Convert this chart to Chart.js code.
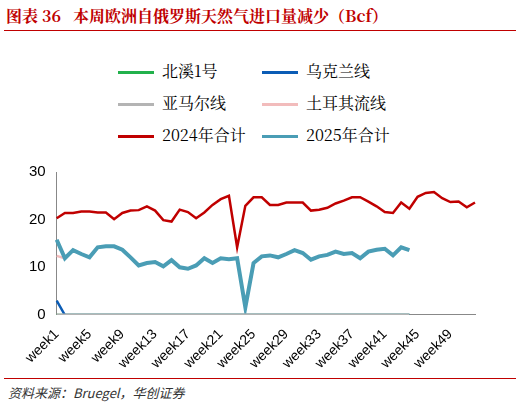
<!DOCTYPE html><html><head><meta charset="utf-8">
<script src="https://cdn.jsdelivr.net/npm/chart.js@4"></script>
<style>
body{margin:0;width:520px;height:410px;background:#fff;font-family:"Noto Sans CJK SC","Noto Sans",sans-serif;position:relative;overflow:hidden}
#t{position:absolute;left:6px;top:4px;color:#c00000;font-weight:bold;font-size:16px;font-family:"Noto Serif CJK SC","Noto Sans CJK SC",serif}
#tl{position:absolute;left:4px;right:4px;top:30px;border-top:1.5px solid #c00000}
#sl{position:absolute;left:4px;right:4px;top:378px;border-top:1px solid #c00000}
#s{position:absolute;left:8px;top:383px;font-size:13px;font-style:italic;color:#333}
#c{position:absolute;left:0;top:160px}
.lg{position:absolute;font-size:16px;font-family:"Noto Serif CJK SC","Noto Sans CJK SC",serif;color:#000;line-height:20px}
.lg i{display:inline-block;width:36px;height:3px;vertical-align:middle;margin-right:8px}
</style></head><body>
<div id="t">图表 36&nbsp;&nbsp;&nbsp;本周欧洲自俄罗斯天然气进口量减少（Bcf）</div><div id="tl"></div>
<div id="lg"></div>
<div id="c"><canvas id="cv" width="520" height="215"></canvas></div>
<div id="sl"></div><div id="s">资料来源：Bruegel，华创证券</div>
<script>
const weeks=[];for(let i=1;i<=52;i++)weeks.push('week'+i);
const total2024=[20.3,21.4,21.4,21.7,21.7,21.5,21.5,20.1,21.4,21.9,22.0,22.8,21.9,19.9,19.6,22.1,21.6,20.3,21.5,23.1,24.3,25.0,14.2,22.9,24.7,24.7,23.1,23.1,23.6,23.6,23.6,21.9,22.1,22.5,23.4,24.0,24.7,24.7,23.8,22.8,21.6,21.4,23.6,22.3,24.8,25.6,25.8,24.5,23.7,23.8,22.6,23.6];
const total2025=[15.8,11.9,13.6,12.8,12.1,14.2,14.4,14.4,13.7,12.1,10.4,10.9,11.1,10.2,11.5,10.0,9.7,10.4,11.9,10.9,11.9,11.7,11.9,1.6,10.9,12.3,12.5,12.1,12.8,13.6,13.0,11.6,12.3,12.6,13.3,12.8,13.0,11.9,13.3,13.7,13.9,12.5,14.2,13.6];
const turkstream=[12.4].concat(total2025.slice(1));
const ukraine=[3.0].concat(Array(43).fill(0));
const nordstream=Array(44).fill(0);
const yamal=Array(44).fill(0);
const names=['北溪1号','乌克兰线','亚马尔线','土耳其流线','2024年合计','2025年合计'];
const cols=['#22b14c','#0b5cb5','#b4b4b4','#f2bcbc','#c00000','#4a9db5'];
const lg=document.getElementById('lg');
names.forEach((n,i)=>{const d=document.createElement('div');d.className='lg';d.style.left=(i%2?262:118)+'px';d.style.top=(61+Math.floor(i/2)*32)+'px';d.innerHTML='<i style="background:'+cols[i]+'"></i>'+n;lg.appendChild(d);});
const ds=(i,d,w,o)=>({label:names[i],data:d,borderColor:cols[i],backgroundColor:cols[i],borderWidth:w,pointRadius:0,tension:0,fill:false,order:o});
new Chart(document.getElementById('cv'),{type:'line',data:{labels:weeks,datasets:[
ds(0,nordstream,2.5,5),ds(1,ukraine,2.5,4),ds(2,yamal,3,1),ds(3,turkstream,2.5,6),
ds(4,total2024,2.5,3),ds(5,total2025,4,2)]},
options:{responsive:false,animation:false,layout:{padding:{left:26,right:45,top:8,bottom:0}},
plugins:{legend:{display:false}},
scales:{x:{grid:{display:false,drawTicks:true,tickColor:'#888'},border:{color:'#888'},ticks:{autoSkip:false,maxRotation:45,minRotation:45,color:'#000',font:{size:14},callback:(v,i)=>i%4===0?weeks[i]:''}},
y:{min:0,max:30,ticks:{stepSize:10,color:'#000',font:{size:15}},grid:{display:false,tickColor:'#888'},border:{color:'#888'}}}}});
</script></body></html>
